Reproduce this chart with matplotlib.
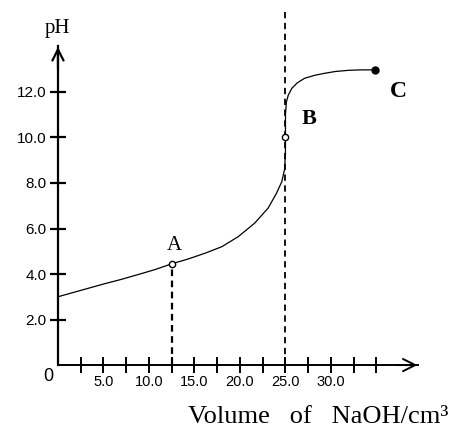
import matplotlib
matplotlib.use("Agg")
import matplotlib.pyplot as plt

# curve points
volume = [0, 1.5, 3.3, 5.0, 7.0, 9.0, 10.7, 12.5, 14.3, 16.2, 18.0, 19.8,
          21.6, 23.1, 24.0, 24.6, 24.9, 25.0, 25.0, 25.0, 25.1, 25.3, 25.7,
          26.3, 27.1, 28.2, 29.3, 30.5, 31.9, 33.3, 34.8]
ph = [3.0, 3.17, 3.37, 3.56, 3.77, 4.0, 4.2, 4.45, 4.66, 4.92, 5.2, 5.64,
      6.23, 6.9, 7.54, 8.06, 8.6, 9.3, 10.0, 11.0, 11.55, 11.85, 12.16,
      12.4, 12.6, 12.73, 12.82, 12.9, 12.95, 12.97, 12.97]

# labelled points A, B, C
point_names = ["A", "B", "C"]
point_vol = [12.5, 25.0, 34.8]
point_ph = [4.45, 10.0, 12.97]

x_ticks = [2.5, 5.0, 7.5, 10.0, 12.5, 15.0, 17.5, 20.0, 22.5, 25.0,
           27.5, 30.0, 32.5, 35.0]
x_labelled = [5.0, 10.0, 15.0, 20.0, 25.0, 30.0]
y_ticks = [2.0, 4.0, 6.0, 8.0, 10.0, 12.0]

SERIF = "Liberation Serif"
SANS = "Liberation Sans"

fig = plt.figure(figsize=(4.52, 4.37), dpi=100)
ax = fig.add_axes([0, 0, 1, 1])
ax.set_xlim(-6.37, 43.3)
ax.set_ylim(-3.16, 16.04)
ax.patch.set_alpha(0)

# axes through the origin
for side in ["top", "right"]:
    ax.spines[side].set_visible(False)
ax.spines["left"].set_position(("data", 0))
ax.spines["bottom"].set_position(("data", 0))
ax.spines["left"].set_bounds(0, 14.0)
ax.spines["bottom"].set_bounds(0, 39.6)
ax.spines["left"].set_linewidth(1.6)
ax.spines["bottom"].set_linewidth(1.4)

ax.set_xticks(x_ticks)
ax.set_xticklabels([f"{t:.1f}" if t in x_labelled else "" for t in x_ticks],
                   fontfamily=SANS, fontsize=10.5)
ax.set_yticks(y_ticks)
ax.set_yticklabels([f"{t:.1f}" for t in y_ticks], fontfamily=SANS, fontsize=11)
ax.tick_params(axis="x", direction="inout", length=11, width=1.4, pad=2)
ax.tick_params(axis="y", direction="inout", length=12, width=1.6, pad=2)

# arrow heads
ax.annotate("", xy=(39.8, 0), xytext=(37.0, 0),
            arrowprops=dict(arrowstyle="->", lw=1.4, color="black",
                            mutation_scale=22))
ax.annotate("", xy=(0, 14.1), xytext=(0, 12.9),
            arrowprops=dict(arrowstyle="->", lw=1.6, color="black",
                            mutation_scale=20))

# titration curve
ax.plot(volume, ph, color="black", lw=0.9)

# dashed guides
ax.plot([point_vol[0], point_vol[0]], [0, point_ph[0]], color="black",
        lw=1.6, ls=(0, (3, 2)))
ax.plot([point_vol[1], point_vol[1]], [0, 15.6], color="black",
        lw=1.3, ls=(0, (3.5, 2.5)))

# points
ax.plot(point_vol[:2], point_ph[:2], "o", ms=4.5, mfc="white", mec="black",
        mew=1.0)
ax.plot(point_vol[2], point_ph[2], "o", ms=5, color="black")

ax.text(12.75, 5.27, point_names[0], fontfamily=SERIF, fontsize=15,
        ha="center", va="center")
ax.text(27.6, 10.8, point_names[1], fontfamily=SERIF, fontsize=16,
        fontweight="bold", ha="center", va="center")
ax.text(37.4, 12.0, point_names[2], fontfamily=SERIF, fontsize=17,
        fontweight="bold", ha="center", va="center")

ax.text(-0.1, 14.8, "pH", fontfamily=SERIF, fontsize=15, ha="center",
        va="center")
ax.text(-1.1, -0.5, "0", fontfamily=SANS, fontsize=13, ha="center",
        va="center")
ax.text(42.9, -2.55, "Volume   of   NaOH/cm\u00b3", fontfamily=SERIF,
        fontsize=19, ha="right", va="baseline")

fig.savefig("out.png", dpi=100)
